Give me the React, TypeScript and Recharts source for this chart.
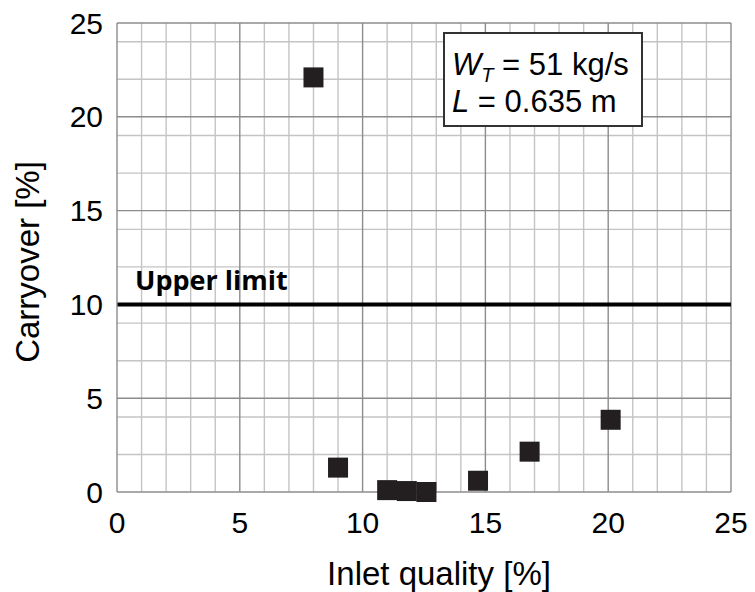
import React from "react"
import {
  ScatterChart,
  Scatter,
  XAxis,
  YAxis,
  CartesianGrid,
  ReferenceLine,
} from "recharts"

const inletQuality = [8.0, 9.0, 11.0, 11.8, 12.6, 14.7, 16.8, 20.1]
const carryover = [22.1, 1.3, 0.1, 0.05, 0.0, 0.6, 2.15, 3.85]
const axisTicks = [0, 5, 10, 15, 20, 25]
const minorGrid = [1, 2, 3, 4, 6, 7, 8, 9, 11, 12, 13, 14, 16, 17, 18, 19, 21, 22, 23, 24]
const majorGrid = [5, 10, 15, 20, 25]
const upperLimit = 10

const points = inletQuality.map((x, i) => ({ x, y: carryover[i] }))

const FONT = "'Liberation Sans', Arial, sans-serif"
const MINOR = "#c4c4c4"
const MAJOR = "#8c8c8c"

const Square = (props: any) => {
  const { cx, cy } = props
  return <rect x={cx - 10} y={cy - 10} width={20} height={20} fill="#231f20" />
}

export default function App() {
  return (
    <div style={{ position: "relative", width: 755, height: 592, background: "#fff" }}>
      <style>{`body{margin:0}`}</style>
      <ScatterChart
        width={755}
        height={592}
        margin={{ top: 23, right: 24, bottom: 0, left: 0 }}
      >
        <CartesianGrid
          stroke={MINOR}
          strokeWidth={1.4}
          horizontalValues={minorGrid}
          verticalValues={minorGrid}
        />
        <XAxis
          type="number"
          dataKey="x"
          domain={[0, 25]}
          ticks={axisTicks}
          height={100}
          tickLine={false}
          tickSize={0}
          tickMargin={20}
          axisLine={{ stroke: MAJOR, strokeWidth: 1.4 }}
          tick={{ fill: "#000", fontSize: 30, fontFamily: FONT }}
          label={{
            content: (p: any) => (
              <text
                x={p.viewBox.x + 322}
                y={p.viewBox.y + 93}
                textAnchor="middle"
                fontSize={33}
                fontFamily={FONT}
                fill="#000"
              >
                Inlet quality [%]
              </text>
            ),
          }}
        />
        <YAxis
          type="number"
          dataKey="y"
          domain={[0, 25]}
          ticks={axisTicks}
          width={117}
          tickLine={false}
          tickSize={0}
          tickMargin={14}
          axisLine={{ stroke: MAJOR, strokeWidth: 1.4 }}
          tick={{ fill: "#000", fontSize: 30, fontFamily: FONT }}
          label={{
            content: () => (
              <text
                x={39}
                y={262}
                transform="rotate(-90 39 262)"
                textAnchor="middle"
                fontSize={33}
                fontFamily={FONT}
                fill="#000"
              >
                Carryover [%]
              </text>
            ),
          }}
        />
        {majorGrid.map((v) => (
          <ReferenceLine key={"vx" + v} x={v} stroke={MAJOR} strokeWidth={1.4} />
        ))}
        {majorGrid.map((v) => (
          <ReferenceLine key={"hy" + v} y={v} stroke={MAJOR} strokeWidth={1.4} />
        ))}
        <ReferenceLine
          y={upperLimit}
          stroke="#000"
          strokeWidth={4}
          label={{
            content: (p: any) => (
              <text
                x={p.viewBox.x + 18}
                y={p.viewBox.y - 14}
                fontSize={27}
                fontWeight={700}
                fontFamily="'Open Sans', sans-serif"
                fill="#000"
              >
                Upper limit
              </text>
            ),
          }}
        />
        <Scatter data={points} shape={Square} isAnimationActive={false} />
      </ScatterChart>
      <div
        style={{
          position: "absolute",
          left: 443,
          top: 32,
          width: 200,
          height: 95,
          border: "2px solid #333",
          background: "#fff",
          fontFamily: FONT,
          fontSize: 31,
          lineHeight: "37px",
          paddingLeft: 7,
          paddingTop: 12,
          boxSizing: "border-box",
          color: "#000",
        }}
      >
        <div>
          <i>W</i>
          <sub style={{ fontSize: 20, lineHeight: 0 }}>
            <i>T</i>
          </sub>{" "}
          = 51 kg/s
        </div>
        <div>
          <i>L</i> = 0.635 m
        </div>
      </div>
    </div>
  )
}
